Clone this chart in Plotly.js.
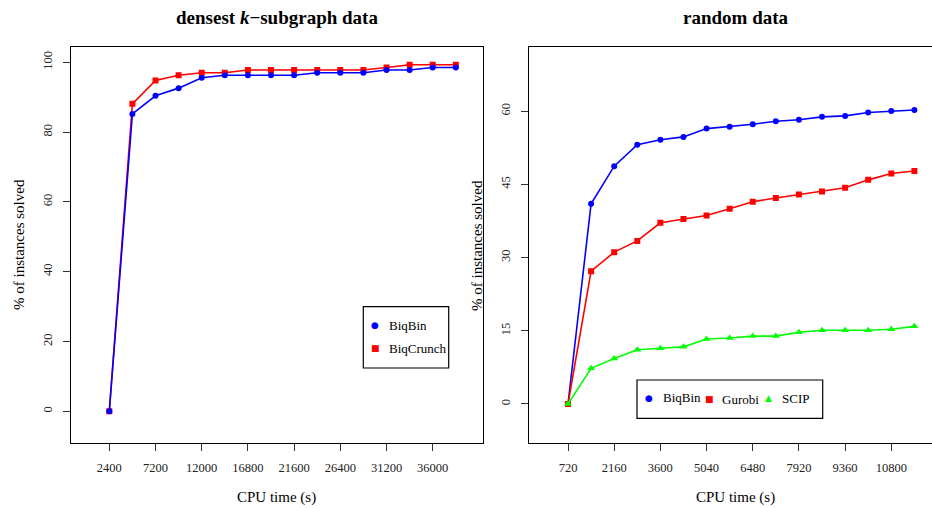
<!DOCTYPE html>
<html>
<head>
<meta charset="utf-8">
<script src="https://cdn.plot.ly/plotly-3.0.1.min.js"></script>
<style>html,body{margin:0;padding:0;background:#fff;}#chart{width:932px;height:508px;}</style>
</head>
<body>
<div id="chart"></div>
<script>
// ---- data: densest k-subgraph ----
var dksTime = [2400, 4800, 7200, 9600, 12000, 14400, 16800, 19200, 21600, 24000, 26400, 28800, 31200, 33600, 36000, 38400];
var dksBiqBin = [0, 85.2, 90.4, 92.6, 95.6, 96.3, 96.3, 96.3, 96.3, 97.0, 97.0, 97.0, 97.8, 97.8, 98.5, 98.5];
var dksBiqCrunch = [0, 88.1, 94.8, 96.3, 97.0, 97.0, 97.8, 97.8, 97.8, 97.8, 97.8, 97.8, 98.5, 99.3, 99.3, 99.3];
var dksXTicks = [2400, 7200, 12000, 16800, 21600, 26400, 31200, 36000];
var dksYTicks = [0, 20, 40, 60, 80, 100];

// ---- data: random ----
var rndTime = [720, 1440, 2160, 2880, 3600, 4320, 5040, 5760, 6480, 7200, 7920, 8640, 9360, 10080, 10800, 11520];
var rndBiqBin = [0, 41.0, 48.7, 53.1, 54.1, 54.7, 56.4, 56.8, 57.3, 57.9, 58.2, 58.8, 59.0, 59.7, 60.0, 60.2];
var rndGurobi = [0, 27.2, 31.1, 33.4, 37.1, 37.9, 38.6, 40.0, 41.4, 42.2, 42.9, 43.5, 44.3, 45.9, 47.2, 47.7];
var rndSCIP = [0, 7.3, 9.3, 11.1, 11.4, 11.7, 13.3, 13.5, 13.9, 13.9, 14.7, 15.1, 15.1, 15.1, 15.3, 15.9];
var rndXTicks = [720, 2160, 3600, 5040, 6480, 7920, 9360, 10800];
var rndYTicks = [0, 15, 30, 45, 60];

var W = 932, H = 508;
function px(x) { return x / W; }
function py(y) { return 1 - y / H; }

var BLUE = '#0000FF', RED = '#FF0000', GREEN = '#00FF00';
var FONT = 'Liberation Serif, Times New Roman, serif';

var traces = [
  {x: dksTime, y: dksBiqCrunch, xaxis: 'x', yaxis: 'y', mode: 'lines+markers', name: 'BiqCrunch',
   line: {color: RED, width: 1.6}, marker: {color: RED, symbol: 'square', size: 6}},
  {x: dksTime, y: dksBiqBin, xaxis: 'x', yaxis: 'y', mode: 'lines+markers', name: 'BiqBin',
   line: {color: BLUE, width: 1.6}, marker: {color: BLUE, symbol: 'circle', size: 6}},
  {x: rndTime, y: rndBiqBin, xaxis: 'x2', yaxis: 'y2', mode: 'lines+markers', name: 'BiqBin',
   line: {color: BLUE, width: 1.6}, marker: {color: BLUE, symbol: 'circle', size: 6}},
  {x: rndTime, y: rndGurobi, xaxis: 'x2', yaxis: 'y2', mode: 'lines+markers', name: 'Gurobi',
   line: {color: RED, width: 1.6}, marker: {color: RED, symbol: 'square', size: 6}},
  {x: rndTime, y: rndSCIP, xaxis: 'x2', yaxis: 'y2', mode: 'lines+markers', name: 'SCIP',
   line: {color: GREEN, width: 1.6}, marker: {color: GREEN, symbol: 'triangle-up', size: 7}}
];

var axBase = {
  showgrid: false, zeroline: false, showline: true, linecolor: '#000', linewidth: 1,
  ticks: 'outside', ticklen: 7, tickwidth: 1, tickcolor: '#333',
  tickfont: {family: FONT, size: 12.5, color: '#222'}, automargin: false, fixedrange: true
};

function ax(extra) { return Object.assign({}, axBase, extra); }

var yDom = [py(443.3), py(46.7)];

var layout = {
  width: W, height: H,
  margin: {l: 0, r: 0, t: 0, b: 0},
  paper_bgcolor: '#fff', plot_bgcolor: '#fff',
  showlegend: false,
  font: {family: FONT, color: '#000'},
  xaxis: ax({domain: [px(71.3), px(482.7)], range: [-1548, 41195], tickmode: 'array', tickvals: dksXTicks,
             ticktext: dksXTicks.map(String), mirror: true, anchor: 'y', ticklabelstandoff: 6}),
  yaxis: ax({domain: yDom, range: [-9.17, 104.47], tickmode: 'array', tickvals: dksYTicks,
             ticktext: dksYTicks.map(String), tickangle: -90, mirror: true, anchor: 'x', ticklabelstandoff: 6}),
  xaxis2: ax({domain: [px(529.3), 1], range: [-486.6, 12069], tickmode: 'array', tickvals: rndXTicks,
              ticktext: rndXTicks.map(String), mirror: true, anchor: 'y2', ticklabelstandoff: 6}),
  yaxis2: ax({domain: yDom, range: [-8.05, 73.17], tickmode: 'array', tickvals: rndYTicks,
              ticktext: rndYTicks.map(String), tickangle: -90, mirror: false, anchor: 'x2', ticklabelstandoff: 6}),
  shapes: [
    {type: 'rect', xref: 'paper', yref: 'paper', x0: px(363.3), x1: px(448.7), y0: py(368), y1: py(306.7),
     line: {color: '#000', width: 1.2}, fillcolor: '#fff', layer: 'above'},
    {type: 'rect', xref: 'paper', yref: 'paper', x0: px(637), x1: px(822.7), y0: py(418.3), y1: py(380),
     line: {color: '#000', width: 1.2}, fillcolor: '#fff', layer: 'above'}
  ],
  annotations: []
};

function ann(text, x, y, opts) {
  return Object.assign({text: text, xref: 'paper', yref: 'paper', x: px(x), y: py(y),
    xanchor: 'center', yanchor: 'middle', showarrow: false,
    font: {family: FONT, size: 13, color: '#000'}}, opts || {});
}

var A = layout.annotations;
A.push(ann('<b>densest <i>k</i>\u2212subgraph data</b>', 276.5, 17, {font: {family: FONT, size: 19, color: '#000'}}));
A.push(ann('<b>random data</b>', 735.5, 17, {font: {family: FONT, size: 19, color: '#000'}}));
A.push(ann('CPU time (s)', 276.7, 497, {font: {family: FONT, size: 15, color: '#000'}}));
A.push(ann('CPU time (s)', 735, 497, {font: {family: FONT, size: 15, color: '#000'}}));
A.push(ann('% of instances solved', 19, 245, {textangle: -90, font: {family: FONT, size: 15, color: '#000'}}));
A.push(ann('% of instances solved', 477, 245, {textangle: -90, font: {family: FONT, size: 15, color: '#000'}}));

// legend entries
function sym(ch, color, x, y, size) {
  return ann('<span style="color:' + color + '">' + ch + '</span>', x, y,
    {font: {family: 'DejaVu Sans', size: size, color: color}});
}
function lab(text, x, y) {
  return ann(text, x, y, {xanchor: 'left', font: {family: FONT, size: 13, color: '#000'}});
}
A.push(sym('\u25CF', BLUE, 375, 325.3, 9));
A.push(lab('BiqBin', 386.7, 325.3));
A.push(sym('\u25A0', RED, 375, 348.3, 9));
A.push(lab('BiqCrunch', 386.7, 348.3));

A.push(sym('\u25CF', BLUE, 648.7, 398.3, 9));
A.push(lab('BiqBin', 660.7, 397));
A.push(sym('\u25A0', RED, 709, 399, 9));
A.push(lab('Gurobi', 720, 399.5));
A.push(sym('\u25B2', GREEN, 768.7, 398.3, 9));
A.push(lab('SCIP', 780, 398.3));

Plotly.newPlot('chart', traces, layout, {displayModeBar: false, staticPlot: true});
</script>
</body>
</html>
